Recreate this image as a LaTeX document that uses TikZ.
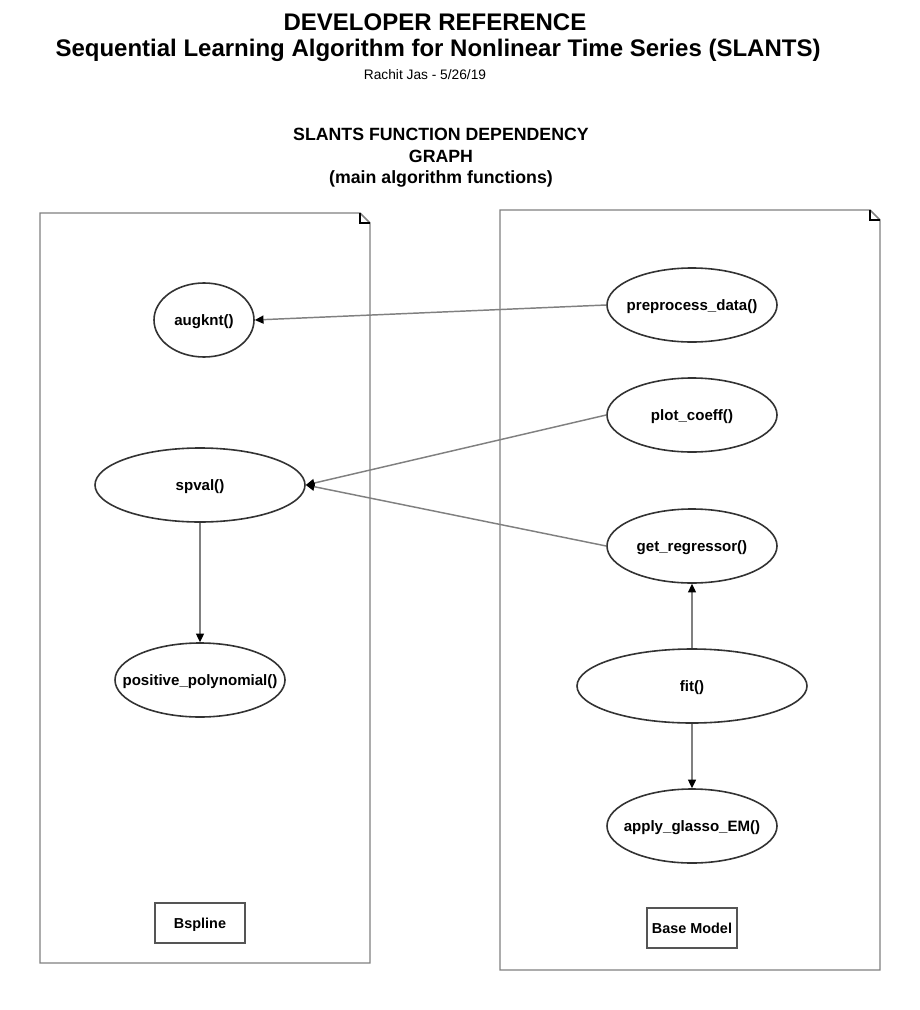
\documentclass[tikz,border=0pt]{standalone}
\usepackage{fontspec}
\setmainfont{Liberation Sans}
\usetikzlibrary{arrows.meta,shapes.geometric}
\definecolor{edgegray}{HTML}{808080}
\definecolor{ringc}{HTML}{333333}
\definecolor{boxc}{HTML}{555555}
\newcommand{\fnlabel}[1]{\raisebox{-4.2pt}[0pt][0pt]{\makebox[0pt]{#1}}}
\tikzset{
  fn/.style={ellipse,draw=ringc,line width=1.2pt,minimum height=74*0.75pt,inner sep=0pt,font=\bfseries\fontsize{11.3pt}{13pt}\selectfont},
  lbl/.style={rectangle,draw=boxc,line width=0.8pt,minimum width=90*0.75pt,minimum height=40*0.75pt,inner sep=0pt,font=\bfseries\fontsize{10.8pt}{13pt}\selectfont},
  dep/.style={draw=edgegray,line width=1.1pt,-{Triangle[length=6.5pt,width=6pt,color=black]}},
  notebox/.style={draw=edgegray,line width=1.1pt,line join=miter},
  fold/.style={draw=black,line width=0.8pt},
}
\begin{document}
\begin{tikzpicture}[x=0.75pt,y=-0.75pt]
\useasboundingbox (0,0) rectangle (920,1010);
% titles
\node[font=\bfseries\fontsize{18pt}{20pt}\selectfont] (t1) at (435,22) {DEVELOPER REFERENCE};
\node[font=\bfseries\fontsize{18pt}{20pt}\selectfont] (t2) at (438,50) {Sequential Learning Algorithm for Nonlinear Time Series (SLANTS)};
\node[font=\fontsize{10.3pt}{12pt}\selectfont] (t3) at (425,75) {Rachit Jas - 5/26/19};
\node[font=\bfseries\fontsize{13.3pt}{16pt}\selectfont,align=center] (t4) at (441,158) {SLANTS FUNCTION DEPENDENCY\\GRAPH\\(main algorithm functions)};
% note boxes
\draw[notebox] (40,213) -- (360,213) -- (370,223) -- (370,963) -- (40,963) -- cycle;
\draw[fold] (360,213) -- (360,223) -- (370,223);
\draw[notebox] (500,210) -- (870,210) -- (880,220) -- (880,970) -- (500,970) -- cycle;
\draw[fold] (870,210) -- (870,220) -- (880,220);
% left nodes
\node[fn,minimum width=100*0.75pt] (augknt) at (204,320) {\fnlabel{augknt()}};
\node[fn,minimum width=210*0.75pt] (spval) at (200,485) {\fnlabel{spval()}};
\node[fn,minimum width=170*0.75pt] (pos) at (200,680) {\fnlabel{positive\_polynomial()}};
\node[lbl] (bsp) at (200,923) {\fnlabel{Bspline}};
% right nodes
\node[fn,minimum width=170*0.75pt] (pre) at (692,305) {\fnlabel{preprocess\_data()}};
\node[fn,minimum width=170*0.75pt] (plot) at (692,415) {\fnlabel{plot\_coeff()}};
\node[fn,minimum width=170*0.75pt] (getr) at (692,546) {\fnlabel{get\_regressor()}};
\node[fn,minimum width=230*0.75pt] (fit) at (692,686) {\fnlabel{fit()}};
\node[fn,minimum width=170*0.75pt] (glasso) at (692,826) {\fnlabel{apply\_glasso\_EM()}};
\node[lbl] (base) at (692,928) {\fnlabel{Base Model}};
% edges
\draw[dep] (pre.west) -- (augknt.east);
\draw[dep] (plot.west) -- (spval.east);
\draw[dep] (getr.west) -- (spval.east);
\draw[dep] (spval.south) -- (pos.north);
\draw[dep] (fit.north) -- (getr.south);
\draw[dep] (fit.south) -- (glasso.north);
\end{tikzpicture}
\end{document}
